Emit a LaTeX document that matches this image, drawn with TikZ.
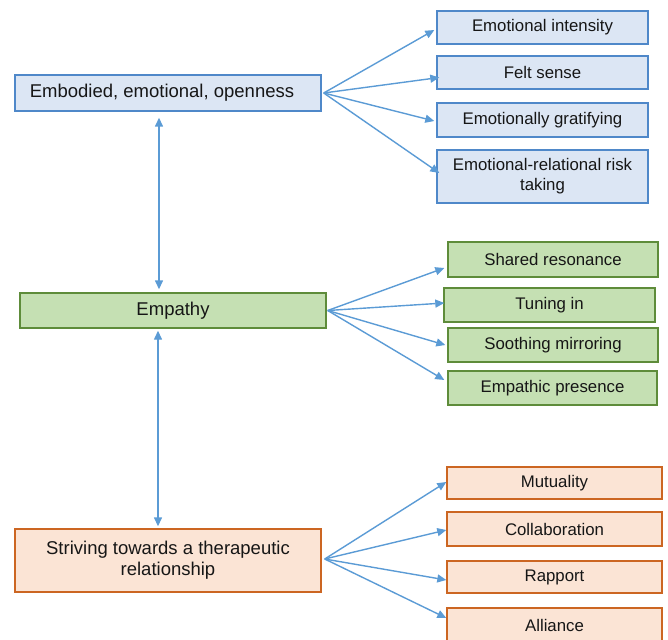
\documentclass[tikz,border=0pt]{standalone}
\usepackage{fontspec}
\setmainfont{Liberation Sans}
\usetikzlibrary{arrows.meta}
\definecolor{bfill}{HTML}{DCE6F4}
\definecolor{bdraw}{HTML}{4F88C9}
\definecolor{gfill}{HTML}{C5E0B3}
\definecolor{gdraw}{HTML}{5E8C3A}
\definecolor{ofill}{HTML}{FBE4D5}
\definecolor{odraw}{HTML}{CC6622}
\definecolor{arr}{HTML}{5B9BD5}
\definecolor{txt}{HTML}{161616}
\tikzset{
  box/.style={rectangle, line width=1.4pt, inner sep=0pt, align=center, text=txt},
  mainbox/.style={box, minimum width=306pt, font=\fontsize{18.5}{21}\selectfont},
  subbox/.style={box, font=\fontsize{16.8}{20}\selectfont},
  bluebox/.style={fill=bfill, draw=bdraw},
  greenbox/.style={fill=gfill, draw=gdraw},
  orangebox/.style={fill=ofill, draw=odraw},
  tipstyle/.style={},
  conn/.style={draw=arr, line width=1.4pt, -{Triangle[length=9pt,width=8pt]}},
  vconn/.style={draw=arr, line width=1.4pt, {Triangle[length=9pt,width=8pt]}-{Triangle[length=9pt,width=8pt]}}
}
\begin{document}
\begin{tikzpicture}[x=1pt,y=-1pt]
\useasboundingbox (0,0) rectangle (668,639);
\clip (0,0) rectangle (668,639);
% main boxes
\node[mainbox, bluebox, minimum height=36pt] (emb) at (168,93) {Embodied, emotional, openness\hspace*{12pt}};
\node[mainbox, greenbox, minimum height=35pt] (emp) at (173,310.5) {Empathy};
\node[mainbox, orangebox, minimum height=63pt] (str) at (168,560.5) {Striving towards a therapeutic\\relationship};
% blue sub boxes
\node[subbox, bluebox, minimum width=211pt, minimum height=33pt] (e1) at (542.5,27.5) {Emotional intensity};
\node[subbox, bluebox, minimum width=211pt, minimum height=33pt] (e2) at (542.5,72.5) {Felt sense};
\node[subbox, bluebox, minimum width=211pt, minimum height=34pt] (e3) at (542.5,120) {Emotionally gratifying};
\node[subbox, bluebox, minimum width=211pt, minimum height=53pt] (e4) at (542.5,176.5) {Emotional-relational risk\\taking};
% green sub boxes
\node[subbox, greenbox, minimum width=210pt, minimum height=35pt] (g1) at (553,259.5) {Shared resonance};
\node[subbox, greenbox, minimum width=211pt, minimum height=34pt] (g2) at (549.5,305) {Tuning in};
\node[subbox, greenbox, minimum width=210pt, minimum height=34pt] (g3) at (553,345) {Soothing mirroring};
\node[subbox, greenbox, minimum width=209pt, minimum height=34pt] (g4) at (552.5,388) {Empathic presence};
% orange sub boxes
\node[subbox, orangebox, minimum width=215pt, minimum height=32pt] (o1) at (554.5,483) {Mutuality};
\node[subbox, orangebox, minimum width=215pt, minimum height=34pt] (o2) at (554.5,529) {Collaboration};
\node[subbox, orangebox, minimum width=215pt, minimum height=32pt] (o3) at (554.5,577) {Rapport};
\node[subbox, orangebox, minimum width=215pt, minimum height=34pt] (o4) at (554.5,625) {Alliance};
% fan-out connectors
\draw[conn] ([xshift=2pt]emb.east) -- ([xshift=-2pt,yshift=-2.5pt]e1.west);
\draw[conn] ([xshift=2pt]emb.east) -- ([xshift=3pt,yshift=-5pt]e2.west);
\draw[conn] ([xshift=2pt]emb.east) -- ([xshift=-2pt,yshift=-1pt]e3.west);
\draw[conn] ([xshift=2pt]emb.east) -- ([xshift=3pt,yshift=3.5pt]e4.west);
\draw[conn] ([xshift=1pt]emp.east) -- ([xshift=-3pt,yshift=-8.5pt]g1.west);
\draw[conn] ([xshift=1pt]emp.east) -- ([xshift=1pt,yshift=2pt]g2.west);
\draw[conn] ([xshift=1pt]emp.east) -- ([xshift=-2pt]g3.west);
\draw[conn] ([xshift=1pt]emp.east) -- ([xshift=-3pt,yshift=8pt]g4.west);
\draw[conn] ([xshift=3pt,yshift=1.5pt]str.east) -- ([xshift=0pt,yshift=1pt]o1.west);
\draw[conn] ([xshift=3pt,yshift=1.5pt]str.east) -- ([xshift=0pt,yshift=-1pt]o2.west);
\draw[conn] ([xshift=3pt,yshift=1.5pt]str.east) -- ([xshift=0pt,yshift=-3pt]o3.west);
\draw[conn] ([xshift=3pt,yshift=1.5pt]str.east) -- ([xshift=0pt,yshift=7pt]o4.west);
% vertical connectors
\draw[vconn, shorten <=6pt, shorten >=3pt] ([xshift=-9pt]emb.south) -- ([xshift=-14pt]emp.north);
\draw[vconn, shorten <=2pt, shorten >=2pt] ([xshift=-15pt]emp.south) -- ([xshift=-10pt]str.north);
\end{tikzpicture}
\end{document}
